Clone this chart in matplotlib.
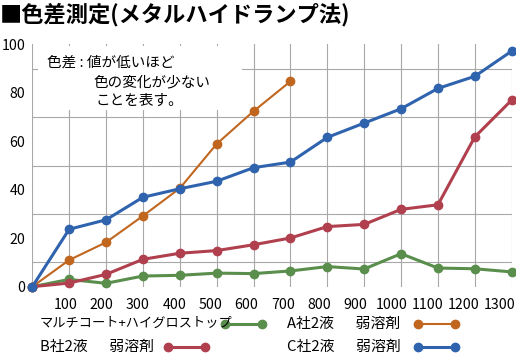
import matplotlib
matplotlib.use("Agg")
import matplotlib.pyplot as plt
from matplotlib.lines import Line2D
from matplotlib.patches import Rectangle

plt.rcParams['font.family'] = ['Noto Sans CJK JP', 'DejaVu Sans']

x = [0, 100, 200, 300, 400, 500, 600, 700, 800, 900, 1000, 1100, 1200, 1300]
x_a = [0, 100, 200, 300, 400, 500, 600, 700]

multi = [0, 3.0, 1.4, 4.4, 4.7, 5.6, 5.4, 6.5, 8.3, 7.3, 13.6, 7.7, 7.4, 6.1]
a_co = [0, 11.0, 18.3, 29.2, 40.6, 58.9, 72.4, 84.7]
b_co = [0, 1.5, 5.1, 11.3, 13.8, 14.9, 17.3, 20.1, 24.8, 25.7, 31.9, 33.8, 61.8, 77.0]
c_co = [0, 23.7, 27.6, 36.9, 40.4, 43.5, 49.1, 51.4, 61.6, 67.5, 73.4, 81.8, 86.8, 97.2]

x_labels = [str(v) for v in range(100, 1301, 100)]
labels = ["マルチコート+ハイグロストップ", "A社2液　  弱溶剤", "B社2液　  弱溶剤", "C社2液　  弱溶剤"]
colors = ["#5a8e4c", "#c0661f", "#b0404e", "#2f63ae"]
note = ["色差 : 値が低いほど", "色の変化が少ない", "ことを表す。"]

W, H = 516, 354
fig = plt.figure(figsize=(5.16, 3.54), dpi=100)
ax = fig.add_axes([32.3 / W, 1 - 286.7 / H, (511.7 - 32.3) / W, (286.7 - 44.3) / H])

ax.set_xlim(0, 1300)
ax.set_ylim(0, 100)
# gridlines on minor ticks, labels on major ticks (labels sit a bit left of the lines)
ax.set_xticks(range(0, 1301, 100), minor=True)
ax.set_xticks([100 * (k + 1) - (8 + 1.8 * (k + 1)) for k in range(13)])
ax.set_xticklabels(x_labels)
ax.set_yticks(range(0, 101, 20))
ax.set_yticks(range(0, 101, 10), minor=True)
ax.grid(True, which="minor", color="#a8a8a8", linewidth=0.8)
ax.grid(False, which="major")
ax.set_axisbelow(True)
for s in ax.spines.values():
    s.set_visible(False)
ax.tick_params(which="both", length=0, labelsize=10.2)
ax.tick_params(axis="x", pad=8)
ax.tick_params(axis="y", pad=5)

series = [(x, multi, 2.2), (x_a, a_co, 1.5), (x, b_co, 2.2), (x, c_co, 2.2)]
for i in [1, 2, 0, 3]:
    xs, ys, lw = series[i]
    ax.plot(xs, ys, color=colors[i], lw=lw, marker="o", ms=6, clip_on=False, zorder=3 + i)

# white note box over the grid
fig.add_artist(Rectangle((38 / W, 1 - 110 / H), (242 - 38) / W, (110 - 46) / H,
                         transform=fig.transFigure, facecolor="white", edgecolor="none", zorder=1.5))
for txt, px, py in zip(note, [47, 94, 96], [63, 82, 101]):
    fig.text(px / W, 1 - py / H, txt, fontsize=10.5, va="center", ha="left", zorder=2)

fig.text(0.0, 1 - 15 / H, "■色差測定(メタルハイドランプ法)", fontsize=16, fontweight="bold",
         va="center", ha="left")

# legend drawn by hand (text first, then line+markers)
leg = [(40, 323.5, 225, 262, 9.5), (287, 323.5, 418, 455, 10.7),
       (40, 346.5, 168, 205, 10.7), (287, 346.5, 418, 455, 10.7)]
for i, (tx, ty, l0, l1, fs) in enumerate(leg):
    fy = 1 - ty / H
    fig.text(tx / W, fy, labels[i], fontsize=fs, va="center", ha="left")
    fig.add_artist(Line2D([l0 / W, l1 / W], [fy, fy], transform=fig.transFigure, color=colors[i],
                          lw=2.2 if i != 1 else 1.5, marker="o", ms=6))

fig.savefig("out.png", dpi=100)
